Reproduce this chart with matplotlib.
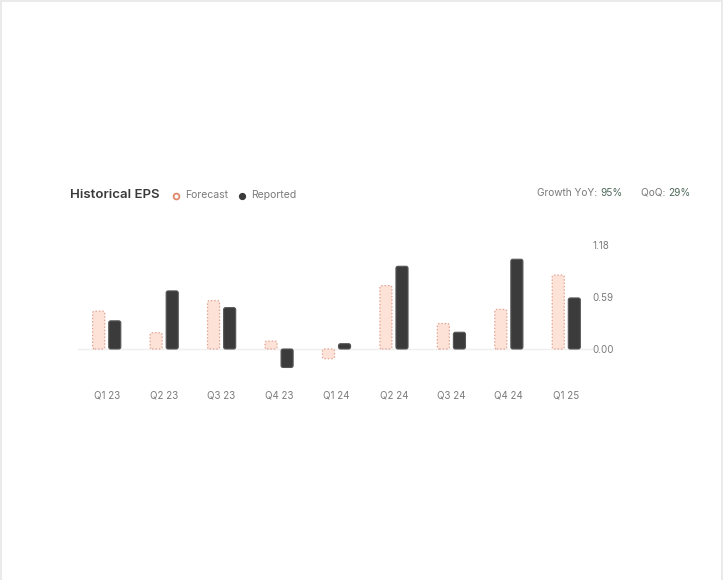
import numpy as np
import matplotlib
matplotlib.use('Agg')
import matplotlib.pyplot as plt
from matplotlib.lines import Line2D
from matplotlib.patches import Rectangle, FancyBboxPatch

# --- Dados ---
quarters = ['Q1 23', 'Q2 23', 'Q3 23', 'Q4 23', 'Q1 24', 'Q2 24', 'Q3 24', 'Q4 24', 'Q1 25']
forecast = [0.43, 0.185, 0.55, 0.09, -0.11, 0.72, 0.29, 0.45, 0.84]
reported = [0.32, 0.66, 0.47, -0.21, 0.06, 0.94, 0.19, 1.02, 0.58]
y_ticks = [0.00, 0.59, 1.18]
y_tick_labels = ['0.00', '0.59', '1.18']

TITLE = 'Historical EPS'
YOY = '95%'
QOQ = '29%'

# --- Estilo ---
FC_FILL = '#fde2d8'
FC_EDGE = '#e3a593'
REP_COLOR = '#3b3b3b'
TEXT_GREY = '#7a7a7a'
VALUE_COLOR = '#4f6a5c'

plt.rcParams['font.family'] = ['Inter', 'DejaVu Sans']

W, H = 724, 580
fig = plt.figure(figsize=(W / 100, H / 100), dpi=100)

# borda clara ao redor da figura
fig.patches.append(Rectangle((0.002, -0.01), 0.995, 1.008, transform=fig.transFigure,
                             fill=False, edgecolor='#e6e6e6', linewidth=1.2))

# eixo posicionado em pixels
ymin, ymax = -0.3, 1.25
px_per_unit = 88.0
zero_px = 349
ax_left, ax_right = 78, 595
ax_bottom_px = zero_px + (-ymin) * px_per_unit
ax_height_px = (ymax - ymin) * px_per_unit
ax = fig.add_axes([ax_left / W, (H - ax_bottom_px) / H,
                   (ax_right - ax_left) / W, ax_height_px / H])

x = np.arange(len(quarters))
bw = 0.21
off = 0.14
px_x = (ax_right - ax_left) / len(quarters)


def rounded(bars, radius_px=2.0):
    """Troca os retângulos das barras por caixas com cantos arredondados."""
    for b in bars.patches:
        bx, by = b.get_xy()
        w, h = b.get_width(), b.get_height()
        if h < 0:
            by, h = by + h, -h
        fb = FancyBboxPatch((bx, by), w, h,
                            boxstyle=f"round,pad=0,rounding_size={radius_px / px_x:.4f}",
                            mutation_aspect=px_x / px_per_unit,
                            facecolor=b.get_facecolor(), edgecolor=b.get_edgecolor(),
                            linewidth=b.get_linewidth(), linestyle=b.get_linestyle(),
                            zorder=3)
        b.set_visible(False)
        ax.add_patch(fb)


fc_bars = ax.bar(x - off, forecast, width=bw, color=FC_FILL, edgecolor=FC_EDGE,
                 linewidth=0.9, linestyle=(0, (1.2, 1.5)), zorder=3)
rep_bars = ax.bar(x + off, reported, width=bw, color=REP_COLOR, edgecolor='#555555',
                  linewidth=0.8, zorder=3)
rounded(fc_bars)
rounded(rep_bars)
ax.axhline(0, color='#efefef', linewidth=1, zorder=1)

ax.set_xlim(-0.5, len(quarters) - 0.5)
ax.set_ylim(ymin, ymax)
ax.set_xticks(x)
ax.set_xticklabels(quarters, fontsize=7, color=TEXT_GREY)
ax.yaxis.tick_right()
ax.set_yticks(y_ticks)
ax.set_yticklabels(y_tick_labels, fontsize=7, color=TEXT_GREY)
ax.tick_params(axis='both', length=0)
ax.tick_params(axis='x', pad=11)
ax.tick_params(axis='y', pad=-2)
for s in ax.spines.values():
    s.set_visible(False)

# --- Cabeçalho ---
def fy(py):
    return 1 - py / H

fig.text(70 / W, fy(195.5), TITLE, fontsize=9.5, fontweight='semibold',
         color='#3a3a3a', va='center', ha='left')
fig.add_artist(Line2D([176 / W], [fy(195.5)], marker='o', markersize=4.2,
                      markerfacecolor='white', markeredgecolor='#e08a6c',
                      markeredgewidth=1.3, linestyle='none'))
fig.text(185 / W, fy(195.5), 'Forecast', fontsize=7.5, color=TEXT_GREY, va='center', ha='left')
fig.add_artist(Line2D([242 / W], [fy(195.5)], marker='o', markersize=4.2,
                      markerfacecolor=REP_COLOR, markeredgecolor=REP_COLOR,
                      linestyle='none'))
fig.text(251 / W, fy(195.5), 'Reported', fontsize=7.5, color=TEXT_GREY, va='center', ha='left')

fig.text(600 / W, fy(193), 'Growth YoY: ', fontsize=7.3, color=TEXT_GREY, va='center', ha='right')
fig.text(600 / W, fy(193), YOY, fontsize=7.3, color=VALUE_COLOR, va='center', ha='left')
fig.text(668 / W, fy(193), 'QoQ: ', fontsize=7.3, color=TEXT_GREY, va='center', ha='right')
fig.text(668 / W, fy(193), QOQ, fontsize=7.3, color=VALUE_COLOR, va='center', ha='left')

fig.savefig('out.png', dpi=100, facecolor='white')
